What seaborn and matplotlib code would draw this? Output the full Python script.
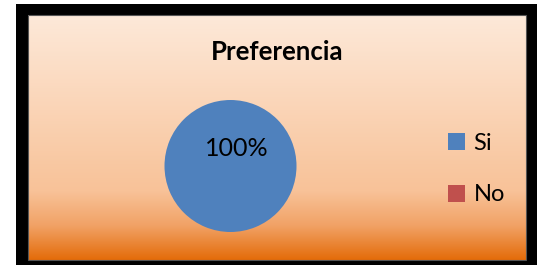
import numpy as np
import seaborn as sns
import matplotlib.pyplot as plt
from matplotlib.colors import LinearSegmentedColormap
from matplotlib.patches import Rectangle, Patch

# Data
categories = ['Si', 'No']
values = [100, 0]
colors = ['#4F81BD', '#C0504D']
title = 'Preferencia'

sns.set_theme(style='white')
plt.rcParams['font.family'] = ['Lato', 'DejaVu Sans']
plt.rcParams['text.color'] = 'black'

W, H = 542, 265
fig = plt.figure(figsize=(W / 100, H / 100), dpi=100)
fig.patch.set_facecolor('white')

# background frame + gradient panel, in pixel coords
bg = fig.add_axes([0, 0, 1, 1], zorder=0)
bg.add_patch(Rectangle((16, 4), 521, 262, color='black', lw=0, zorder=0))
grad = LinearSegmentedColormap.from_list(
    'bgrad', [(0, '#FDE9D9'), (0.72, '#F8C298'), (0.86, '#F1A266'), (1, '#E46C0A')])
g = np.linspace(0, 1, 256).reshape(-1, 1)
bg.imshow(g, cmap=grad, aspect='auto', extent=(28, 526, 260, 15),
          interpolation='bilinear', zorder=1)
bg.add_patch(Rectangle((28, 15), 498, 245, fill=False, ec='#555555', lw=0.8, zorder=2))
bg.text(277, 52, title, ha='center', va='center', fontsize=18.5,
        fontweight='bold', color='black', zorder=3)
bg.set_xlim(0, W)
bg.set_ylim(H, 0)
bg.axis('off')

# pie
cx, cy, r = 230.5, 166, 66
ax = fig.add_axes([(cx - r) / W, 1 - (cy + r) / H, 2 * r / W, 2 * r / H], zorder=1)
ax.pie(values, colors=colors, startangle=-110, counterclock=True,
       autopct=lambda p: f'{p:.0f}%' if p > 0 else '', pctdistance=0.29,
       wedgeprops={'linewidth': 0, 'edgecolor': 'none'},
       textprops={'fontsize': 18, 'color': 'black'})
ax.set_xlim(-1, 1)
ax.set_ylim(-1, 1)
ax.set_aspect('equal')
ax.axis('off')

# legend
handles = [Patch(facecolor=c, edgecolor='none') for c in colors]
fig.legend(handles, categories, loc='center left', bbox_to_anchor=(427 / W, 1 - 169 / H),
           frameon=False, fontsize=17, handlelength=0.72, handleheight=0.72,
           handletextpad=0.35, labelspacing=1.3, labelcolor='black')

fig.savefig('out.png', dpi=100)
